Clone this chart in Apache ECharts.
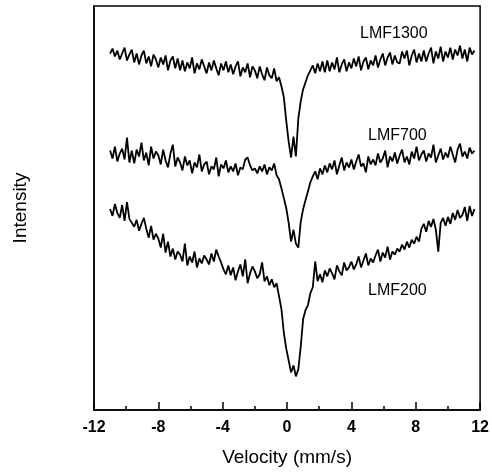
<!DOCTYPE html>
<html>
<head>
<meta charset="utf-8">
<script src="https://cdn.jsdelivr.net/npm/echarts@6/dist/echarts.min.js"></script>
<style>
html,body{margin:0;padding:0;background:#fff;}
#chart{width:492px;height:472px;}
</style>
</head>
<body>
<div id="chart"></div>
<script>
// Velocity channels (mm/s)
const velocity = [
-11.00,-10.85,-10.70,-10.55,-10.40,-10.25,-10.10,-9.95,-9.80,-9.65,
-9.50,-9.35,-9.20,-9.05,-8.90,-8.75,-8.60,-8.45,-8.30,-8.15,
-8.00,-7.85,-7.70,-7.55,-7.40,-7.25,-7.10,-6.95,-6.80,-6.65,
-6.50,-6.35,-6.20,-6.05,-5.90,-5.75,-5.60,-5.45,-5.30,-5.15,
-5.00,-4.85,-4.70,-4.55,-4.40,-4.25,-4.10,-3.95,-3.80,-3.65,
-3.50,-3.35,-3.20,-3.05,-2.90,-2.75,-2.60,-2.45,-2.30,-2.15,
-2.00,-1.85,-1.70,-1.55,-1.40,-1.25,-1.10,-0.95,-0.80,-0.65,
-0.50,-0.35,-0.20,-0.05,0.10,0.25,0.40,0.55,0.70,0.85,
1.00,1.15,1.30,1.45,1.60,1.75,1.90,2.05,2.20,2.35,
2.50,2.65,2.80,2.95,3.10,3.25,3.40,3.55,3.70,3.85,
4.00,4.15,4.30,4.45,4.60,4.75,4.90,5.05,5.20,5.35,
5.50,5.65,5.80,5.95,6.10,6.25,6.40,6.55,6.70,6.85,
7.00,7.15,7.30,7.45,7.60,7.75,7.90,8.05,8.20,8.35,
8.50,8.65,8.80,8.95,9.10,9.25,9.40,9.55,9.70,9.85,
10.00,10.15,10.30,10.45,10.60,10.75,10.90,11.05,11.20,11.35,
11.50,11.65
];

// Relative intensity (arbitrary units, spectra stacked with offsets)
const lmf1300 = [
360,365,357,363,354,360,366,353,359,364,
351,360,349,358,363,350,357,347,359,354,
346,356,349,358,343,353,357,345,355,343,
353,342,351,345,356,340,350,344,354,347,
340,351,343,353,345,338,350,343,352,341,
349,339,347,352,337,346,341,350,336,347,
343,335,347,339,333,346,338,335,345,332,
336,327,316,292,271,255,276,256,294,312,
324,331,338,343,348,340,350,342,352,341,
353,342,351,344,356,341,349,354,342,351,
345,355,347,357,343,352,356,344,353,348,
358,346,354,360,348,356,361,349,358,351,
350,362,355,363,348,358,364,351,360,352,
363,352,360,366,350,362,355,367,352,362,
356,366,354,364,358,368,355,364,352,366,
359,363
];

const lmf700 = [
262,254,266,251,259,264,253,275,250,262,
249,263,256,270,252,260,247,266,254,261,
257,248,263,252,245,259,268,246,255,250,
242,256,247,252,239,250,245,258,241,248,
251,238,246,243,255,236,248,244,252,240,
246,241,249,237,245,243,253,255,247,242,
244,239,246,241,248,238,245,242,249,237,
233,224,214,204,189,170,182,168,164,190,
203,212,221,230,236,241,233,244,238,247,
240,249,243,252,238,247,255,242,250,245,
253,243,251,258,246,249,240,256,248,253,
247,259,250,254,262,245,256,251,260,249,
257,263,250,256,248,261,254,266,252,258,
262,251,259,255,268,250,257,264,253,260,
255,266,258,250,263,269,256,261,254,265,
259,262
];

const lmf200 = [
203,196,208,199,194,207,191,210,193,189,
185,192,181,188,194,183,174,186,172,178,
173,164,178,159,170,155,163,152,160,157,
150,168,146,155,149,160,144,153,148,156,
152,147,158,150,162,155,149,142,137,146,
136,144,131,140,147,135,152,128,138,145,
140,133,137,149,130,135,126,132,124,128,
115,102,78,62,50,38,45,34,41,64,
92,101,106,118,124,150,130,137,129,141,
135,143,138,132,146,140,136,149,141,144,
150,142,147,155,144,151,158,146,153,149,
156,162,150,159,154,165,152,160,157,163,
160,167,162,170,164,172,168,175,170,183,
188,180,191,185,193,182,160,189,194,186,
195,188,199,192,202,194,197,205,191,206,
196,203
];

const seriesNames = ['LMF1300', 'LMF700', 'LMF200'];
const xTicks = [-12, -8, -4, 0, 4, 8, 12];

const pair = arr => velocity.map((v, i) => [v, arr[i]]);

const chart = echarts.init(document.getElementById('chart'), null, {renderer: 'canvas'});
const font = 'Liberation Sans, Arial, Helvetica, sans-serif';
const lineSeries = (name, arr) => ({
  name: name,
  type: 'line',
  data: pair(arr),
  showSymbol: false,
  symbol: 'none',
  lineStyle: {color: '#000', width: 1.8},
  animation: false
});

chart.setOption({
  animation: false,
  backgroundColor: '#fff',
  grid: {left: 94, right: 11, top: 6, bottom: 58, show: true, borderColor: '#000', borderWidth: 1.5, backgroundColor: 'transparent'},
  xAxis: {
    type: 'value',
    min: xTicks[0], max: xTicks[xTicks.length - 1], interval: 4,
    name: 'Velocity (mm/s)', nameLocation: 'middle', nameGap: 38,
    nameTextStyle: {fontFamily: font, fontSize: 19, color: '#000'},
    axisLine: {show: true, onZero: false, lineStyle: {color: '#000', width: 1.5}},
    axisTick: {show: true, inside: true, length: 8, lineStyle: {color: '#000', width: 1.5}},
    minorTick: {show: true, splitNumber: 2, length: 4, lineStyle: {color: '#000', width: 1.5}},
    axisLabel: {fontFamily: font, fontSize: 16, color: '#000', margin: 10, fontWeight: 'bold'},
    splitLine: {show: false}
  },
  yAxis: {
    type: 'value', min: 0, max: 408,
    name: 'Intensity', nameLocation: 'middle', nameGap: 64,
    nameTextStyle: {fontFamily: font, fontSize: 19, color: '#000'},
    axisLine: {show: true, onZero: false, lineStyle: {color: '#000', width: 1.5}},
    axisTick: {show: false}, axisLabel: {show: false}, splitLine: {show: false}
  },
  graphic: [
    {type: 'text', left: 360, top: 26, style: {text: seriesNames[0], font: '16px ' + font, fill: '#000'}},
    {type: 'text', left: 368, top: 128, style: {text: seriesNames[1], font: '16px ' + font, fill: '#000'}},
    {type: 'text', left: 368, top: 283, style: {text: seriesNames[2], font: '16px ' + font, fill: '#000'}}
  ],
  series: [
    lineSeries(seriesNames[0], lmf1300),
    lineSeries(seriesNames[1], lmf700),
    lineSeries(seriesNames[2], lmf200)
  ]
});
</script>
</body>
</html>
